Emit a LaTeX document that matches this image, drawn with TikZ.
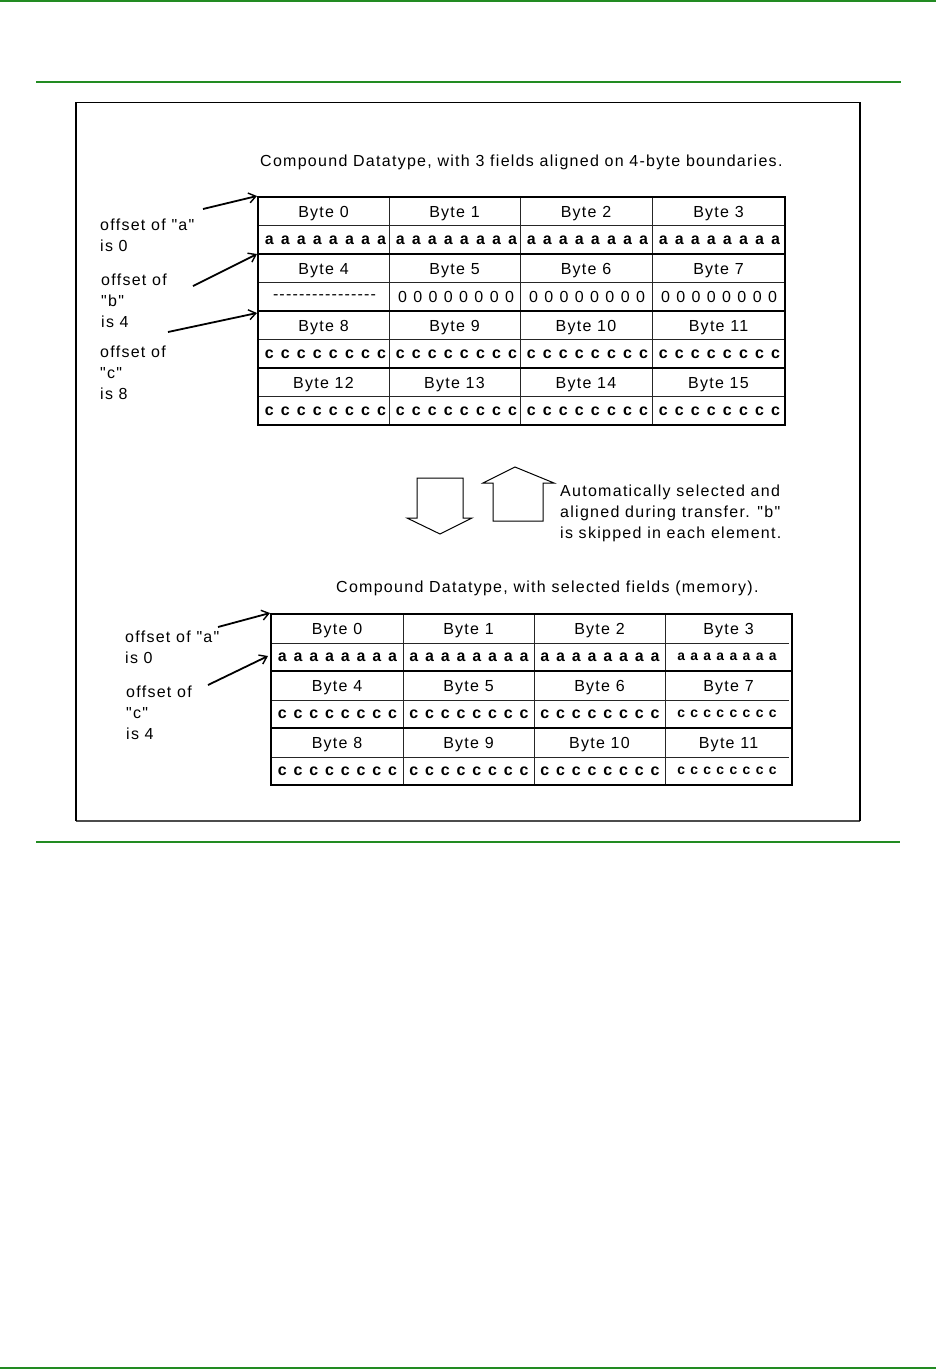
\documentclass[tikz,border=0pt]{standalone}
\usepackage{fontspec}
\setmainfont{Liberation Sans}
\newfontfamily\labfont[LetterSpace=8]{Liberation Sans}
\newfontfamily\datfont{Liberation Mono}
\usetikzlibrary{arrows.meta}
\definecolor{pagegreen}{RGB}{34,139,34}
\newcommand{\eightof}[1]{#1\hfil#1\hfil#1\hfil#1\hfil#1\hfil#1\hfil#1\hfil#1}
\newcommand{\boldrow}[2]{\makebox[#1][s]{\fontsize{16}{16}\datfont\bfseries\eightof{#2}}}
\newcommand{\zerorow}{\makebox[116pt][s]{\fontsize{16}{16}\selectfont\eightof{0}}}
\newcommand{\dashrow}{\makebox[103pt][s]{\fontsize{16}{16}\selectfont\eightof{-\hfil-}}}
\tikzset{
  lbl/.style={inner sep=0pt, anchor=base west, font=\fontsize{16}{19}\labfont},
  hdr/.style={inner sep=0pt, anchor=base, font=\fontsize{16}{19}\labfont},
  cell/.style={inner sep=0pt},
  thinl/.style={line width=0.9pt, black!85},
  thickl/.style={line width=2.2pt, black},
  ann/.style={line width=1.8pt, -{Straight Barb[length=7pt,width=10pt,line width=1.4pt]}},
  blockarrow/.style={line width=1pt, black}
}
\begin{document}
\begin{tikzpicture}[x=1pt,y=-1pt]
\useasboundingbox (0,0) rectangle (936,1369);
% page rules
\draw[pagegreen, line width=1.5pt] (0,0.8) -- (936,0.8);
\draw[pagegreen, line width=2.2pt] (36,81.7) -- (901,81.7);
\draw[pagegreen, line width=2.2pt] (36,842) -- (900,842);
\draw[pagegreen, line width=1.5pt] (0,1368.2) -- (936,1368.2);
% figure frame
\draw[black!70, line width=1.2pt] (76,821) -- (860,821);
\draw[black, line width=1.4pt] (76,821) -- (76,102.5) -- (860,102.5) -- (860,821);

% ===== Table 1 =====
\node[lbl] (title1) at (260,166) {Compound Datatype, with 3 fields aligned on 4-byte boundaries.};
\foreach \g/\y in {0/197,1/254,2/311,3/368}{
  \foreach \c/\x in {0/323.5,1/454.5,2/586,3/718.5}{
    \pgfmathtruncatemacro{\n}{4*\g+\c}
    \node[hdr] (t1h\n) at (\x,\y+20.5) {Byte \n};
  }
  \draw[thinl] (258,\y+28.5) -- (785,\y+28.5);
}
% data row 0
\node[cell] (t1d0) at (325.5,240) {\boldrow{122pt}{a}};
\node[cell] (t1d1) at (456.5,240) {\boldrow{122pt}{a}};
\node[cell] (t1d2) at (587.5,240) {\boldrow{122pt}{a}};
\node[cell] (t1d3) at (719.5,240) {\boldrow{122pt}{a}};
% data row 1
\node[cell] (t1d4) at (324.5,297) {\dashrow};
\node[cell] (t1d5) at (456,297) {\zerorow};
\node[cell] (t1d6) at (587,297) {\zerorow};
\node[cell] (t1d7) at (719,297) {\zerorow};
% data row 2
\node[cell] (t1d8) at (325.5,354) {\boldrow{122pt}{c}};
\node[cell] (t1d9) at (456.5,354) {\boldrow{122pt}{c}};
\node[cell] (t1d10) at (587.5,354) {\boldrow{122pt}{c}};
\node[cell] (t1d11) at (719.5,354) {\boldrow{122pt}{c}};
% data row 3
\node[cell] (t1d12) at (325.5,411) {\boldrow{122pt}{c}};
\node[cell] (t1d13) at (456.5,411) {\boldrow{122pt}{c}};
\node[cell] (t1d14) at (587.5,411) {\boldrow{122pt}{c}};
\node[cell] (t1d15) at (719.5,411) {\boldrow{122pt}{c}};
% grid
\foreach \x in {389,520,652}{ \draw[thinl] (\x,197) -- (\x,425); }
\foreach \y in {254,311,368}{ \draw[thickl] (258,\y) -- (785,\y); }
\draw[thickl] (258,197) rectangle (785,425);

% annotations table 1
\node[lbl] (oa1) at (100,230) {offset of "a"};
\node[lbl] (oa2) at (100,251) {is 0};
\node[lbl] (ob1) at (101,285) {offset of};
\node[lbl] (ob2) at (101,306) {"b"};
\node[lbl] (ob3) at (101,327) {is 4};
\node[lbl] (oc1) at (100,357) {offset of};
\node[lbl] (oc2) at (100,378) {"c"};
\node[lbl] (oc3) at (100,399) {is 8};
\coordinate (aS) at (203,209);
\coordinate (aE) at (257,196);
\coordinate (bS) at (193,286);
\coordinate (bE) at (257,254);
\coordinate (cS) at (168,332);
\coordinate (cE) at (257,313);
\draw[ann] (aS) -- (aE);
\draw[ann] (bS) -- (bE);
\draw[ann] (cS) -- (cE);

% block arrows
\draw[blockarrow] (417,478) -- (463,478) -- (463,518) -- (472,518) -- (440,534) -- (407,518) -- (417,518) -- cycle;
\draw[blockarrow] (493,521) -- (543,521) -- (543,483) -- (554,483) -- (515,467) -- (483,483) -- (493,483) -- cycle;
\node[lbl] (au1) at (560,496) {Automatically selected and};
\node[lbl] (au2) at (560,517) {aligned during transfer. "b"};
\node[lbl] (au3) at (560,538) {is skipped in each element.};

% ===== Table 2 =====
\node[lbl] (title2) at (336,592) {Compound Datatype, with selected fields (memory).};
\foreach \g/\y in {0/614,1/671,2/728}{
  \foreach \c/\x in {0/337,1/468.5,2/599.5,3/728.5}{
    \pgfmathtruncatemacro{\n}{4*\g+\c}
    \node[hdr] (t2h\n) at (\x,\y+20.5) {Byte \n};
  }
  \draw[thinl] (271,\y+29) -- (789,\y+29);
}
\node[cell] (t2d0) at (337.5,657) {\boldrow{120pt}{a}};
\node[cell] (t2d1) at (469,657) {\boldrow{120pt}{a}};
\node[cell] (t2d2) at (600,657) {\boldrow{120pt}{a}};
\node[cell] (t2d3) at (727,657) {\makebox[100pt][s]{\fontsize{14}{14}\datfont\bfseries\eightof{a}}};
\node[cell] (t2d4) at (337.5,714) {\boldrow{120pt}{c}};
\node[cell] (t2d5) at (469,714) {\boldrow{120pt}{c}};
\node[cell] (t2d6) at (600,714) {\boldrow{120pt}{c}};
\node[cell] (t2d7) at (727,714) {\makebox[100pt][s]{\fontsize{14}{14}\datfont\bfseries\eightof{c}}};
\node[cell] (t2d8) at (337.5,771) {\boldrow{120pt}{c}};
\node[cell] (t2d9) at (469,771) {\boldrow{120pt}{c}};
\node[cell] (t2d10) at (600,771) {\boldrow{120pt}{c}};
\node[cell] (t2d11) at (727,771) {\makebox[100pt][s]{\fontsize{14}{14}\datfont\bfseries\eightof{c}}};
\foreach \x in {403,534,665}{ \draw[thinl] (\x,614) -- (\x,785); }
\foreach \y in {671,728}{ \draw[thickl] (271,\y) -- (792,\y); }
\draw[thickl] (271,614) rectangle (792,785);

% annotations table 2
\node[lbl] (pa1) at (125,642) {offset of "a"};
\node[lbl] (pa2) at (125,663) {is 0};
\node[lbl] (pc1) at (126,697) {offset of};
\node[lbl] (pc2) at (126,718) {"c"};
\node[lbl] (pc3) at (126,739) {is 4};
\coordinate (paS) at (218,627);
\coordinate (paE) at (270,613);
\coordinate (pcS) at (208,685);
\coordinate (pcE) at (268,656);
\draw[ann] (paS) -- (paE);
\draw[ann] (pcS) -- (pcE);
\end{tikzpicture}
\end{document}
